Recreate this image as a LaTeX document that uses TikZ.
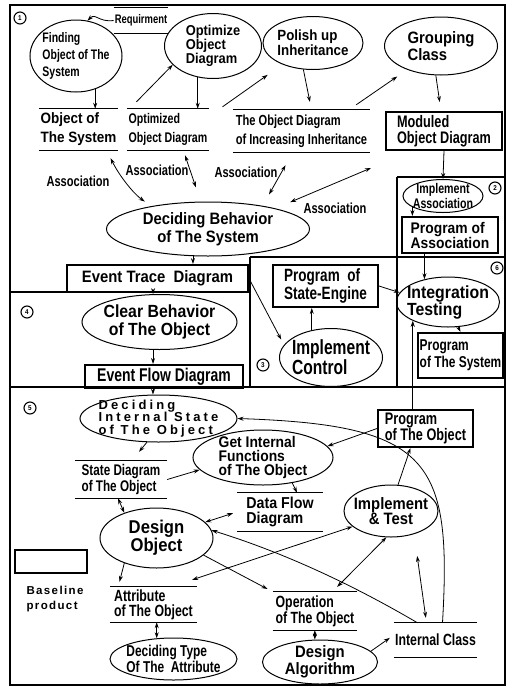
\documentclass[tikz,border=0pt]{standalone}
\usepackage{fontspec}
\setmainfont{Liberation Sans}
\newfontfamily\widefamily[FakeStretch=0.9]{Liberation Sans}
\newfontfamily\narrowfamily[FakeStretch=0.76]{Liberation Sans}
\newfontfamily\spacedfamily[LetterSpace=24]{Liberation Sans}
\newfontfamily\loosefamily[LetterSpace=12]{Liberation Sans}
\usepackage{tikz}
\usetikzlibrary{shapes.geometric,arrows.meta,positioning}
\newcommand{\widetxt}[2]{\widefamily\fontsize{#1}{#2}\selectfont\bfseries}
\newcommand{\narrowtxt}[2]{\narrowfamily\fontsize{#1}{#2}\selectfont\bfseries}
\newcommand{\spacedtxt}[2]{\spacedfamily\fontsize{#1}{#2}\selectfont\bfseries}
\newcommand{\loosetxt}[2]{\loosefamily\fontsize{#1}{#2}\selectfont\bfseries}
\tikzset{
  proc/.style={draw, ellipse, line width=1pt, inner sep=-8pt},
  basebox/.style={draw, line width=2pt, inner sep=2pt, align=left},
  store/.style={inner xsep=1pt, inner ysep=0pt, align=left,
    append after command={(\tikzlastnode.north west) edge[-, line width=1pt] (\tikzlastnode.north east)
      (\tikzlastnode.south west) edge[-, line width=1pt] (\tikzlastnode.south east)}},
  numc/.style={draw, circle, line width=1.1pt, inner sep=0pt, minimum size=12pt, font=\widetxt{7}{7}},
  flow/.style={->, line width=0.8pt},
  link/.style={<->, line width=0.8pt},
  zone/.style={line width=1.4pt},
}

\begin{document}
\begin{tikzpicture}[x=1pt, y=-1pt, >={Stealth[length=6pt,width=4pt]}]
  \useasboundingbox (0,0) rectangle (510,689);
  \draw[zone] (10,5) rectangle (505,685);
  \draw[zone] (10,292) -- (250,292) (250,257) -- (505,257) (250,257) -- (250,387)
    (397,177) -- (397,387) (397,177) -- (505,177) (10,387) -- (505,387);
  \node[numc] (n1) at (20,18) {1};
  \node[numc] (n2) at (495,188) {2};
  \node[numc] (n3) at (263,365) {3};
  \node[numc] (n4) at (27,312) {4};
  \node[numc] (n5) at (30,408) {5};
  \node[numc] (n6) at (497,268) {6};

  % area 1
  \node[store, minimum width=52, minimum height=25, font=\narrowtxt{12.4}{13}] (req) at (141,20.5) {Requirment};
  \node[proc, minimum width=92, minimum height=72, align=left, font=\narrowtxt{13.8}{17}] (find) at (76,56) {Finding\\Object of The\\System};
  \node[proc, minimum width=97, minimum height=65, align=left, font=\widetxt{14.3}{13}] (optim) at (213,46) {Optimize\\Object\\Diagram};
  \node[proc, minimum width=100, minimum height=53, align=left, font=\widetxt{14.8}{15}] (polish) at (313,43) {Polish up\\Inheritance};
  \node[proc, minimum width=113, minimum height=58, align=left, font=\widetxt{16.5}{17}] (group) at (441,46) {Grouping\\Class};
  \node[store, minimum width=77, minimum height=41, font=\widetxt{15}{19}] (objsys) at (78.5,129.5) {Object of\\The System};
  \node[store, minimum width=80, minimum height=41, font=\narrowtxt{14}{19}] (optd) at (168,129.5) {Optimized\\Object Diagram};
  \node[store, minimum width=137, minimum height=42, font=\narrowtxt{14.6}{19}] (incr) at (301.5,131) {The Object Diagram\\of Increasing Inheritance};
  \node[basebox, minimum width=116, minimum height=38, font=\narrowtxt{16.7}{16}] (modbox) at (444,131) {Moduled\\Object Diagram};
  \node[font=\narrowtxt{14.6}{14}] (ass1) at (78,181) {Association};
  \node[font=\narrowtxt{14.6}{14}] (ass2) at (157,170) {Association};
  \node[font=\narrowtxt{14.6}{14}] (ass3) at (246,172) {Association};
  \node[font=\narrowtxt{14.6}{14}] (ass4) at (335,208) {Association};
  \node[proc, minimum width=203, minimum height=54, align=center, font=\widetxt{16.5}{18}] (behav) at (208,229) {Deciding Behavior\\of The System};
  \node[basebox, minimum width=181, minimum height=27, font=\widetxt{16.5}{17}] (etrace) at (157.5,278.5) {Event Trace~~Diagram};

  % areas 2, 3, 4, 6
  \node[proc, minimum width=80, minimum height=33, align=center, font=\narrowtxt{14}{13}] (impass) at (443,196) {Implement\\Association};
  \node[basebox, minimum width=96, minimum height=36, font=\widetxt{15.4}{15}] (progass) at (450,235) {Program of\\Association};
  \node[proc, minimum width=155, minimum height=55, align=center, font=\widetxt{17.6}{18}] (clear) at (159.5,322) {Clear Behavior\\of The Object};
  \node[basebox, minimum width=158, minimum height=23, font=\narrowtxt{18.4}{17}] (eflow) at (164,376.5) {Event Flow Diagram};
  \node[basebox, minimum width=105, minimum height=42, font=\narrowtxt{17.8}{18}] (progse) at (325.5,286) {Program~~of\\State-Engine};
  \node[proc, minimum width=103, minimum height=58, align=left, font=\narrowtxt{20.5}{20}] (impctl) at (331,357.5) {Implement\\Control};
  \node[proc, minimum width=103, minimum height=50, align=left, font=\widetxt{17.6}{17}] (integ) at (448,302) {Integration\\Testing};
  \node[basebox, minimum width=85, minimum height=45, font=\narrowtxt{15.7}{17}] (progsys) at (460.5,355.5) {Program\\of The System};

  % area 5
  \node[proc, minimum width=157, minimum height=47, inner xsep=-14pt, align=left, font=\spacedtxt{13}{12.5}] (intstate) at (158.5,418.5) {Deciding\\Internal State\\of The Object};
  \node[store, minimum width=92, minimum height=37, font=\narrowtxt{15.4}{16}] (stdiag) at (121,479.5) {State Diagram\\of The Object};
  \node[proc, minimum width=140, minimum height=55, align=left, font=\widetxt{15.4}{14}] (getfun) at (263,457.5) {Get Internal\\Functions\\of The Object};
  \node[basebox, minimum width=95, minimum height=37, font=\narrowtxt{16.7}{15}] (progobj) at (425.5,428.5) {Program\\of The Object};
  \node[store, minimum width=86, minimum height=38, font=\widetxt{15.8}{15}] (dflow) at (280,512) {Data Flow\\Diagram};
  \node[proc, minimum width=94, minimum height=52, align=center, font=\widetxt{16.5}{15}] (imptest) at (391,511) {Implement\\\& Test};
  \node[proc, minimum width=113, minimum height=60, align=center, font=\widetxt{18.5}{16}] (desobj) at (156.5,538) {Design\\Object};
  \node[store, minimum width=87, minimum height=35, font=\narrowtxt{16.2}{15}] (attr) at (153.5,604.5) {Attribute\\of The Object};
  \node[proc, minimum width=127, minimum height=42, align=left, font=\narrowtxt{15.7}{16}] (dectype) at (173.5,659) {Deciding Type\\Of The~~Attribute};
  \node[store, minimum width=84, minimum height=38, font=\narrowtxt{16.2}{16}] (oper) at (315,611) {Operation\\of The Object};
  \node[proc, minimum width=115, minimum height=44, align=center, font=\widetxt{16.5}{17}] (desalg) at (320,662) {Design\\Algorithm};
  \node[store, minimum width=65, minimum height=34, font=\narrowtxt{16.2}{15}] (intcls) at (435.5,640) {Internal Class};
  \node[basebox, minimum width=72, minimum height=23] (legbox) at (51,561.5) {};
  \node[align=left, font=\loosetxt{11.5}{15}] (leglbl) at (55,599) {Baseline\\product};

  % connectors, area 1
  \draw[flow] (req.west) .. controls +(-15,2) and +(8,-8) .. (find.72);
  \draw[flow] (find.-60) -- (find.-60 |- objsys.north);
  \draw[flow] ([shift={(9pt,7pt)}]optd.north west) -- (optim.205);
  \draw[flow] (optim.244) -- (optim.244 |- optd.north);
  \draw[flow, shorten >=18pt] ([shift={(14pt,2pt)}]optd.north east) -- (polish.215);
  \draw[flow, shorten >=8pt] (polish.-110) -- ([xshift=10pt]incr.north);
  \draw[flow, shorten >=12pt] ([shift={(-14pt,5pt)}]incr.north east) -- (group.215);
  \draw[flow, shorten >=9pt] (group.-100) -- ([xshift=-3pt]modbox.north);
  \draw[link, shorten >=8pt] ([shift={(-7pt,-8pt)}]objsys.south east) .. controls (120,177) and (134,194) .. (behav.158);
  \draw[link, shorten >=15pt] ([shift={(17pt,-5pt)}]optd.south) -- (behav.105);
  \draw[link, shorten >=13pt] ([shift={(-16pt,-13pt)}]incr.south) -- (behav.23);
  \draw[link, shorten >=16pt] ([shift={(-14pt,-17pt)}]modbox.south west) -- (behav.17);
  \draw[flow] (behav.241) -- (behav.241 |- etrace.north);

  % connectors, areas 2, 3, 4, 6
  \draw[flow] (modbox.south) -- (impass.north);
  \draw[flow] (impass.200) -- (impass.200 |- progass.north);
  \draw[flow] (integ.136 |- progass.south) -- (integ.136);
  \draw[flow] (progse.east) -- (integ.169);
  \draw[flow] (impctl.125) -- (impctl.125 |- progse.south);
  \draw[flow, shorten >=6pt] (etrace.east) -- (impctl.165);
  \draw[flow] (integ.-68) -- (progsys.north);
  \draw[flow] (clear.103 |- etrace.south) -- (clear.103);
  \draw[flow] (clear.-103) -- (clear.-103 |- eflow.north);

  % connectors, area 5
  \draw[flow] (progobj.north -| integ.208) -- (integ.208);
  \draw[flow] (intstate.103 |- eflow.south) -- (intstate.103);
  \draw[flow] (intstate.244) -- ([shift={(18pt,9pt)}]stdiag.north);
  \draw[flow] (stdiag.east) -- (getfun.191);
  \draw[flow] (progobj.west) -- (getfun.10);
  \draw[flow] (getfun.-41) -- ([xshift=17pt]dflow.north);
  \draw[flow] (imptest.75) -- ([xshift=-15pt]progobj.south);
  \draw[flow] ([xshift=7pt]intcls.north) .. controls (452,460) and (430,425) .. (intstate.east);
  \draw[link, shorten >=22pt, shorten <=5pt] ([xshift=-9pt]intcls.north) -- (imptest.-45);
  \draw[flow] ([xshift=-18pt]intcls.north) .. controls (348,582) and (279,551) .. (desobj.8);
  \draw[link] ([xshift=-3pt]stdiag.south) -- (desobj.142);
  \draw[link, shorten >=4pt] (desobj.18) -- (dflow.west);
  \draw[flow, shorten >=6pt] (desobj.-20) -- (oper.north west);
  \draw[link] (imptest.202) -- ([shift={(-5pt,7pt)}]attr.north east);
  \draw[link] (imptest.-100) -- ([shift={(-20pt,5pt)}]oper.north east);
  \draw[flow] (desobj.218) -- ([shift={(-34pt,5pt)}]attr.north);
  \draw[link] (dectype.129 |- attr.south) -- (dectype.129);
  \draw[link] (desalg.103 |- oper.south) -- (desalg.103);
  \draw[flow, shorten >=5pt] (desalg.12) -- ([yshift=5pt]intcls.west);
\end{tikzpicture}
\end{document}
